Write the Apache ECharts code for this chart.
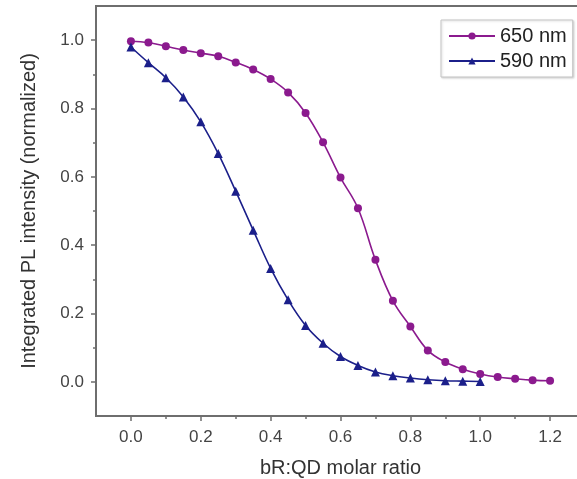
<!DOCTYPE html>
<html>
<head>
<meta charset="utf-8">
<script src="https://cdn.jsdelivr.net/npm/echarts@6/dist/echarts.min.js"></script>
<style>
  html, body { margin: 0; padding: 0; background: #fff; }
  #chart { width: 577px; height: 479px; }
</style>
</head>
<body>
<div id="chart"></div>
<script>
// bR:QD molar ratio
const ratio650 = [0, 0.05, 0.1, 0.15, 0.2, 0.25, 0.3, 0.35, 0.4, 0.45, 0.5, 0.55, 0.6,
  0.65, 0.7, 0.75, 0.8, 0.85, 0.9, 0.95, 1.0, 1.05, 1.1, 1.15, 1.2];
const pl650 = [0.997, 0.993, 0.982, 0.971, 0.962, 0.953, 0.935, 0.914, 0.886, 0.847, 0.787, 0.701, 0.598,
  0.508, 0.357, 0.237, 0.162, 0.092, 0.058, 0.037, 0.023, 0.014, 0.009, 0.005, 0.003];

const ratio590 = [0, 0.05, 0.1, 0.15, 0.2, 0.25, 0.3, 0.35, 0.4, 0.45, 0.5,
  0.55, 0.6, 0.65, 0.7, 0.75, 0.8, 0.85, 0.9, 0.95, 1.0];
const pl590 = [0.98, 0.934, 0.89, 0.834, 0.761, 0.668, 0.558, 0.444, 0.332, 0.24, 0.165,
  0.113, 0.074, 0.048, 0.029, 0.018, 0.011, 0.006, 0.003, 0.002, 0.001];

const xMajor = [0, 0.2, 0.4, 0.6, 0.8, 1.0, 1.2];
const xMinor = [0.1, 0.3, 0.5, 0.7, 0.9, 1.1];
const yMajor = [0, 0.2, 0.4, 0.6, 0.8, 1.0];
const yMinor = [0.1, 0.3, 0.5, 0.7, 0.9];

const AXIS = "#6e6e6e";
const TXT = "#444";
const PURPLE = "#8b1a8e";
const NAVY = "#1b1f8a";
const FONT = "Liberation Sans";

const chart = echarts.init(document.getElementById("chart"), null, { renderer: "canvas" });

const fmt = (v) => v.toFixed(1);

const baseX = {
  type: "value",
  min: -0.1,
  max: 1.3,
  position: "bottom",
  splitLine: { show: false },
};
const baseY = {
  type: "value",
  min: -0.1,
  max: 1.1,
  position: "left",
  splitLine: { show: false },
};

chart.setOption({
  backgroundColor: "#fff",
  animation: false,
  grid: {
    left: 96, width: 489, top: 6, height: 410,
    outerBoundsMode: "none",
    show: true, borderColor: AXIS, borderWidth: 2,
  },
  legend: {
    orient: "vertical",
    left: 441,
    top: 20,
    padding: [5, 6, 5, 7],
    itemWidth: 46,
    itemHeight: 9,
    itemGap: 3,
    borderColor: "#c4c4c4",
    borderWidth: 1,
    shadowColor: "rgba(0,0,0,0.15)",
    shadowBlur: 2,
    shadowOffsetX: 1,
    shadowOffsetY: 1,
    backgroundColor: "#fff",
    textStyle: { color: "#222", fontSize: 20, lineHeight: 22, fontFamily: FONT },
    data: ["650 nm", "590 nm"],
  },
  xAxis: [
    {
      ...baseX,
      name: "bR:QD molar ratio",
      nameLocation: "middle",
      nameGap: 42,
      nameTextStyle: { color: "#333", fontSize: 20, fontFamily: FONT },
      axisLine: { onZero: false, lineStyle: { color: AXIS, width: 2 } },
      axisTick: { customValues: xMajor, length: 5, lineStyle: { color: AXIS, width: 1.5 } },
      axisLabel: { customValues: xMajor, formatter: fmt, color: TXT, fontSize: 17, margin: 13, fontFamily: FONT },
    },
    {
      ...baseX,
      axisLine: { show: false, onZero: false },
      axisTick: { customValues: xMinor, length: 3, lineStyle: { color: AXIS, width: 1.5 } },
      axisLabel: { show: false },
    },
  ],
  yAxis: [
    {
      ...baseY,
      name: "Integrated PL intensity (normalized)",
      nameLocation: "middle",
      nameGap: 57,
      nameTextStyle: { color: "#333", fontSize: 20, fontFamily: FONT },
      axisLine: { onZero: false, lineStyle: { color: AXIS, width: 2 } },
      axisTick: { customValues: yMajor, length: 5, lineStyle: { color: AXIS, width: 1.5 } },
      axisLabel: { customValues: yMajor, formatter: fmt, color: TXT, fontSize: 17, margin: 12, fontFamily: FONT },
    },
    {
      ...baseY,
      axisLine: { show: false, onZero: false },
      axisTick: { customValues: yMinor, length: 3, lineStyle: { color: AXIS, width: 1.5 } },
      axisLabel: { show: false },
    },
  ],
  series: [
    {
      name: "650 nm",
      type: "line",
      smooth: 0.4,
      data: ratio650.map((x, i) => [x, pl650[i]]),
      symbol: "circle",
      symbolSize: 8,
      lineStyle: { color: PURPLE, width: 1.6 },
      itemStyle: { color: PURPLE },
    },
    {
      name: "590 nm",
      type: "line",
      smooth: 0.4,
      data: ratio590.map((x, i) => [x, pl590[i]]),
      symbol: "triangle",
      symbolSize: 9,
      lineStyle: { color: NAVY, width: 1.6 },
      itemStyle: { color: NAVY },
    },
  ],
});
</script>
</body>
</html>
